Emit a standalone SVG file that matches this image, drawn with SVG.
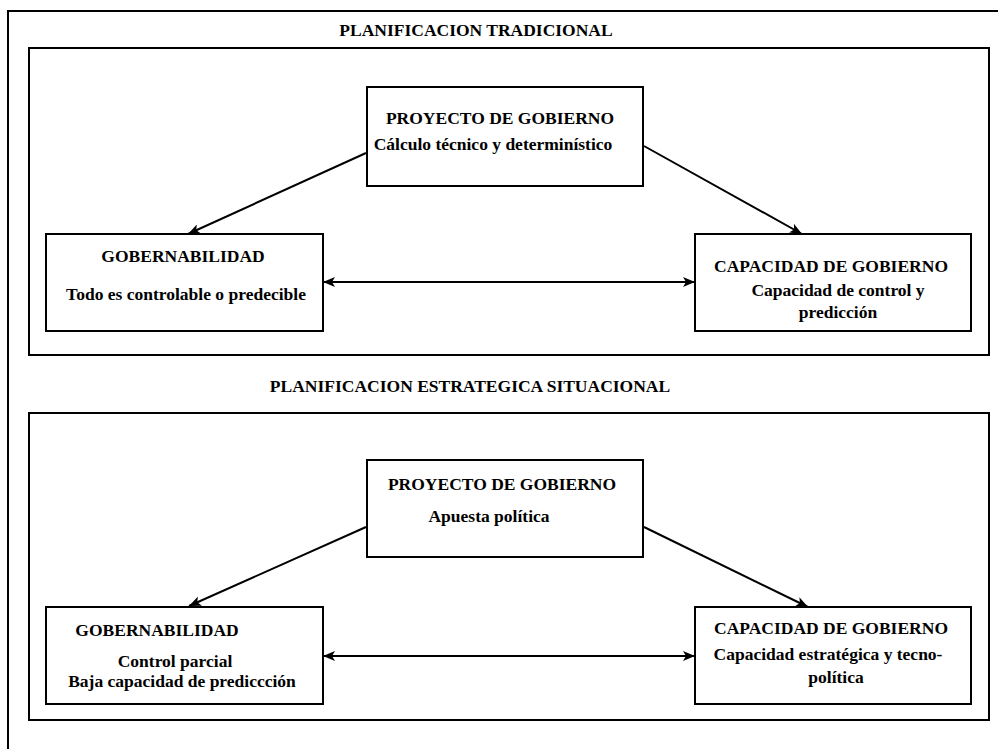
<svg xmlns="http://www.w3.org/2000/svg" width="998" height="749" viewBox="0 0 998 749">
<defs>
<style>
.t{font-family:"Liberation Serif","Times New Roman",serif;font-weight:bold;font-size:17.5px;fill:#000;text-anchor:middle}
.box{fill:#fff;stroke:#000;stroke-width:2}
.frame{fill:none;stroke:#000;stroke-width:2}
.edge{fill:none;stroke:#000;stroke-width:2}
</style>
<marker id="ah" viewBox="0 0 12 10" refX="12" refY="5" markerWidth="13" markerHeight="10" markerUnits="userSpaceOnUse" orient="auto-start-reverse">
<path d="M0,0 L12,5 L0,10 L3,5 Z" fill="#000"/>
</marker>
</defs>
<rect width="998" height="749" fill="#fff"/>
<g id="outer-frame">
<polyline class="frame" points="8,749 8,11 998,11"/>
</g>
<g id="section-tradicional">
<rect class="frame" x="29" y="48" width="960" height="307"/>
<text class="t" x="476" y="36">PLANIFICACION TRADICIONAL</text>
</g>
<g id="section-estrategica">
<rect class="frame" x="29" y="413" width="960" height="307"/>
<text class="t" x="470" y="392">PLANIFICACION ESTRATEGICA SITUACIONAL</text>
</g>
<g id="connectors">
<line class="edge" x1="366" y1="153" x2="188" y2="234" marker-end="url(#ah)"/>
<line class="edge" x1="644" y1="146" x2="802" y2="234" marker-end="url(#ah)"/>
<line class="edge" x1="323" y1="282" x2="695" y2="282" marker-start="url(#ah)" marker-end="url(#ah)"/>
<line class="edge" x1="366" y1="527" x2="189" y2="606" marker-end="url(#ah)"/>
<line class="edge" x1="644" y1="527" x2="808" y2="607" marker-end="url(#ah)"/>
<line class="edge" x1="323" y1="656" x2="695" y2="656" marker-start="url(#ah)" marker-end="url(#ah)"/>
</g>
<g id="proyecto-tradicional">
<rect class="box" x="367" y="87" width="276" height="99"/>
<text class="t" x="500" y="124">PROYECTO DE GOBIERNO</text>
<text class="t" x="493" y="150">Cálculo técnico y determinístico</text>
</g>
<g id="gobernabilidad-tradicional">
<rect class="box" x="46" y="234" width="277" height="97"/>
<text class="t" x="183" y="262">GOBERNABILIDAD</text>
<text class="t" x="186" y="300">Todo es controlable o predecible</text>
</g>
<g id="capacidad-tradicional">
<rect class="box" x="695" y="234" width="276" height="97"/>
<text class="t" x="831" y="272">CAPACIDAD DE GOBIERNO</text>
<text class="t" x="838" y="296">Capacidad de control y</text>
<text class="t" x="838" y="318">predicción</text>
</g>
<g id="proyecto-estrategica">
<rect class="box" x="367" y="460" width="276" height="97"/>
<text class="t" x="502" y="490">PROYECTO DE GOBIERNO</text>
<text class="t" x="489" y="522">Apuesta política</text>
</g>
<g id="gobernabilidad-estrategica">
<rect class="box" x="46" y="607" width="277" height="97"/>
<text class="t" x="157" y="636">GOBERNABILIDAD</text>
<text class="t" x="175" y="667">Control parcial</text>
<text class="t" x="182" y="687">Baja capacidad de prediccción</text>
</g>
<g id="capacidad-estrategica">
<rect class="box" x="695" y="607" width="276" height="97"/>
<text class="t" x="831" y="634">CAPACIDAD DE GOBIERNO</text>
<text class="t" x="828" y="660">Capacidad estratégica y tecno-</text>
<text class="t" x="836" y="683">política</text>
</g>
</svg>
